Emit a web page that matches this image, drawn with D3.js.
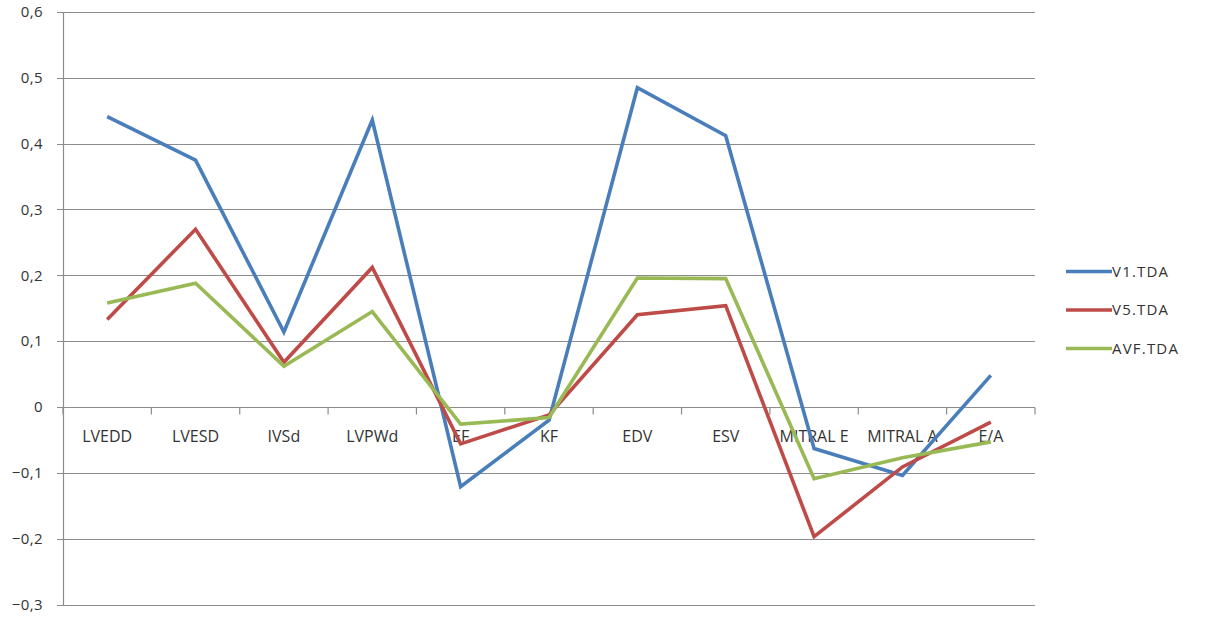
<!DOCTYPE html>
<html>
<head>
<meta charset="utf-8">
<script src="https://cdn.jsdelivr.net/npm/d3@7"></script>
<style>
  html, body { margin: 0; padding: 0; background: #fff; }
  svg { display: block; font-family: "Open Sans", "Liberation Sans", sans-serif; }
</style>
</head>
<body>
<svg id="chart" width="1205" height="621"></svg>
<script>
// Echocardiography parameters on the category axis
const categories = ["LVEDD", "LVESD", "IVSd", "LVPWd", "EF", "KF", "EDV", "ESV", "MITRAL E", "MITRAL A", "E/A"];

// Correlation coefficients per lead
const v1Tda  = [0.441, 0.375, 0.114, 0.436, -0.121, -0.020, 0.485, 0.412, -0.063, -0.104, 0.048];
const v5Tda  = [0.133, 0.270, 0.068, 0.212, -0.056, -0.012, 0.140, 0.154, -0.197, -0.091, -0.023];
const avfTda = [0.158, 0.188, 0.062, 0.145, -0.026, -0.016, 0.196, 0.195, -0.109, -0.077, -0.053];

const seriesNames = ["V1.TDA", "V5.TDA", "AVF.TDA"];
const seriesColors = ["#4a7ebb", "#be4b48", "#98b954"];
const yTicks = [-0.3, -0.2, -0.1, 0, 0.1, 0.2, 0.3, 0.4, 0.5, 0.6];

const series = [v1Tda, v5Tda, avfTda].map((values, i) => ({
  name: seriesNames[i], color: seriesColors[i], values
}));

const svg = d3.select("#chart");
const plot = { left: 63, right: 1035, top: 12, bottom: 604.5 };
const textColor = "#333";

const x = d3.scaleBand().domain(categories).range([plot.left, plot.right]).paddingInner(0).paddingOuter(0);
const y = d3.scaleLinear().domain([-0.3, 0.6]).range([plot.bottom, plot.top]);
const fmt = v => (Math.abs(v) < 1e-9 ? "0" : d3.format(".1f")(v).replace(".", ","));

// Horizontal gridlines
svg.append("g")
  .selectAll("line")
  .data(yTicks)
  .join("line")
  .attr("x1", plot.left - 6).attr("x2", plot.right)
  .attr("y1", d => Math.round(y(d)) + 0.5).attr("y2", d => Math.round(y(d)) + 0.5)
  .attr("stroke", "#8c8c8c").attr("stroke-width", 1.2);

// Vertical value axis
svg.append("line")
  .attr("x1", plot.left + 0.5).attr("x2", plot.left + 0.5)
  .attr("y1", plot.top).attr("y2", plot.bottom + 1)
  .attr("stroke", "#8c8c8c").attr("stroke-width", 1.2);

// Value labels
svg.append("g")
  .selectAll("text")
  .data(yTicks)
  .join("text")
  .attr("x", 43).attr("y", d => y(d))
  .attr("dy", "0.35em")
  .attr("text-anchor", "end")
  .attr("font-size", 15)
  .attr("letter-spacing", 0.4)
  .attr("fill", textColor)
  .text(fmt);

// Category axis along zero with tick marks between categories
const y0 = Math.round(y(0)) + 0.5;
const tickXs = categories.map(c => x(c)).concat([plot.right]);
svg.append("g")
  .selectAll("line")
  .data(tickXs)
  .join("line")
  .attr("x1", d => d).attr("x2", d => d)
  .attr("y1", y0).attr("y2", y0 + 7)
  .attr("stroke", "#8c8c8c").attr("stroke-width", 1.2);

svg.append("g")
  .selectAll("text")
  .data(categories)
  .join("text")
  .attr("x", d => x(d) + x.bandwidth() / 2)
  .attr("y", y0 + 29)
  .attr("dy", "0.35em")
  .attr("text-anchor", "middle")
  .attr("font-size", 16)
  .attr("fill", textColor)
  .text(d => d);

// Series lines
const line = d3.line()
  .x((d, i) => x(categories[i]) + x.bandwidth() / 2)
  .y(d => y(d));

svg.append("g")
  .selectAll("path")
  .data(series)
  .join("path")
  .attr("d", d => line(d.values))
  .attr("fill", "none")
  .attr("stroke", d => d.color)
  .attr("stroke-width", 3.6)
  .attr("stroke-linejoin", "miter")
  .attr("stroke-linecap", "butt");

// Legend
const legend = svg.append("g")
  .selectAll("g")
  .data(series)
  .join("g")
  .attr("transform", (d, i) => `translate(1066, ${271.5 + i * 38.5})`);

legend.append("line")
  .attr("x1", 0).attr("x2", 46)
  .attr("stroke", d => d.color)
  .attr("stroke-width", 3.6);

legend.append("text")
  .attr("x", 46).attr("dy", "0.35em")
  .attr("font-size", 15)
  .attr("letter-spacing", 1.2)
  .attr("fill", textColor)
  .text(d => d.name);
</script>
</body>
</html>
